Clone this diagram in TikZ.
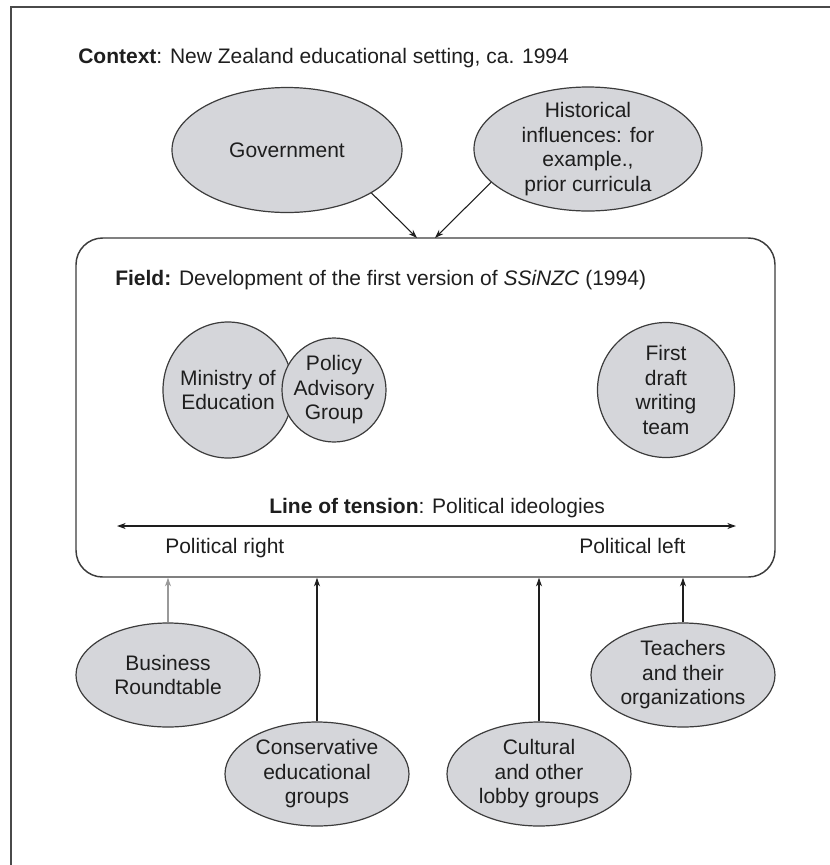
\documentclass[tikz,border=0pt]{standalone}
\usepackage{fontspec}
\setmainfont{Liberation Sans}
\usetikzlibrary{shapes.geometric,arrows.meta}
\definecolor{ink}{HTML}{1E1E1E}
\definecolor{edge}{HTML}{3C3C3C}
\definecolor{bubble}{HTML}{D5D6DA}
\definecolor{framegray}{HTML}{4A4A4A}
\tikzset{
  txt/.style={font=\fontsize{15.75pt}{18.4pt}\selectfont, text=ink, inner sep=0pt},
  actor/.style={txt, ellipse, draw=edge, fill=bubble, line width=0.9pt,
    inner sep=-4pt, align=center},
  arr/.style={draw=ink, line width=0.8pt, -{Stealth[length=6.5pt,width=4.5pt]}},
  fieldbox/.style={draw=edge, line width=1.1pt, rounded corners=20pt,
    minimum width=524.25pt, minimum height=254.25pt, inner sep=0pt},
}
\begin{document}
\begin{tikzpicture}[x=0.75pt, y=-0.75pt]
\useasboundingbox (0,0) rectangle (830,865);

% outer frame
\draw[framegray, line width=1.5pt] (830,7) -- (11,7) -- (11,865);

% context heading
\node[txt, anchor=base west] (ctx) at (78,63) {\textbf{Context}: New Zealand educational setting, ca. 1994};

% outside influences (top)
\node[actor, minimum width=172.5pt, minimum height=93.75pt] (gov) at (287,150) {Government};
\node[actor, minimum width=171pt, minimum height=93pt] (hist) at (588,149)
  {Historical\\influences: for\\example.,\\prior curricula};

% the field
\node[fieldbox] (box) at (425.5,407.5) {};
\node[txt, anchor=base west] (field) at (115,285)
  {\textbf{Field:} Development of the first version of \textit{SSiNZC} (1994)};

\node[actor, minimum width=97.5pt, minimum height=102pt] (moe) at (228,390) {Ministry of\\Education};
\node[actor, minimum width=78pt, minimum height=78pt] (pag) at (334,390) {Policy\\Advisory\\Group};
\node[actor, minimum width=102.75pt, minimum height=101.25pt] (fdw) at (666,390) {First\\draft\\writing\\team};

% line of tension
\node[txt, anchor=base west] (lot) at (269,513) {\textbf{Line of tension}: Political ideologies};
\coordinate (lotL) at (117,526);
\coordinate (lotR) at (736,526);
\draw[draw=ink, line width=0.9pt, {Stealth[length=6.5pt,width=4.5pt]}-{Stealth[length=6.5pt,width=4.5pt]}] (lotL) -- (lotR);
\node[txt, anchor=base west] (pright) at (165,553) {Political right};
\node[txt, anchor=base west] (pleft) at (579,553) {Political left};

% outside influences (bottom)
\node[actor, minimum width=138pt, minimum height=78pt] (brt) at (168,675) {Business\\Roundtable};
\node[actor, minimum width=138pt, minimum height=78pt] (ceg) at (317,774) {Conservative\\educational\\groups};
\node[actor, minimum width=138pt, minimum height=78pt] (clg) at (539,774) {Cultural\\and other\\lobby groups};
\node[actor, minimum width=138pt, minimum height=78pt] (tch) at (683,675) {Teachers\\and their\\organizations};

% connectors
\coordinate (gIn) at (417,238);
\coordinate (hIn) at (435,238);
\draw[arr] (gov.-27) -- (gIn);
\draw[arr] (hist.199) -- (hIn);

\draw[arr, draw=gray!80] (brt.north) -- (brt.north |- box.south);
\draw[arr] (ceg.north) -- (ceg.north |- box.south);
\draw[arr] (clg.north) -- (clg.north |- box.south);
\draw[arr] (tch.north) -- (tch.north |- box.south);
\end{tikzpicture}
\end{document}
